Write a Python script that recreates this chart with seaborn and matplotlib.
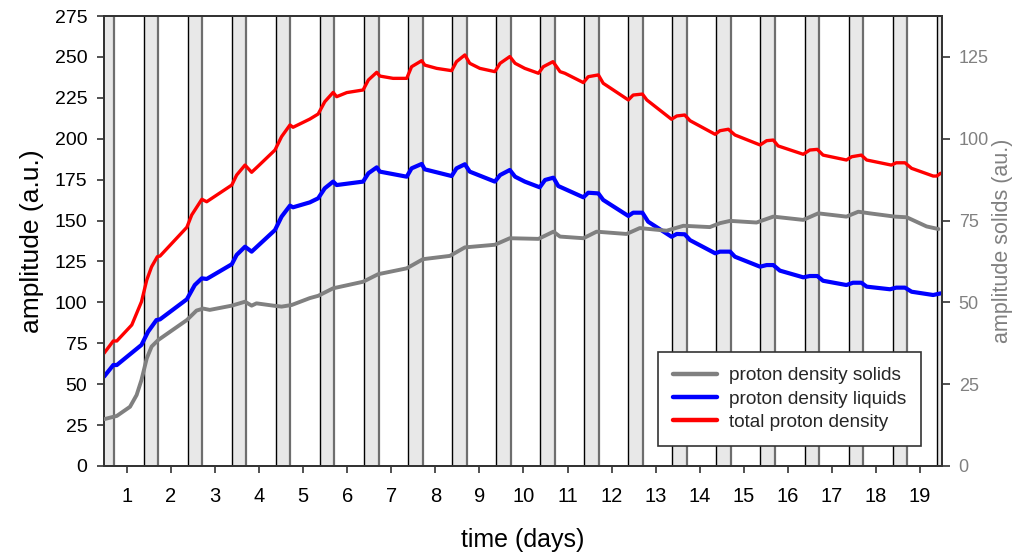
import matplotlib
matplotlib.use("Agg")
import matplotlib.pyplot as plt
from matplotlib.lines import Line2D
import pandas as pd
import seaborn as sns

sns.set_theme(style="ticks")
plt.rcParams['font.family'] = ['Liberation Sans', 'DejaVu Sans']

# ---- measured series -------------------------------------------------------
t_total = [0.48, 0.69, 0.77, 1.11, 1.33, 1.45, 1.56, 1.69, 1.75,
           2.36, 2.47, 2.70, 2.81, 3.38, 3.49, 3.68, 3.83, 3.98,
           4.36, 4.51, 4.70, 4.77, 5.15, 5.34, 5.49, 5.68, 5.76, 5.99,
           6.36, 6.48, 6.67, 6.74, 7.04, 7.35, 7.46, 7.69, 7.76,
           8.03, 8.37, 8.48, 8.67, 8.78, 9.01, 9.35, 9.47, 9.69, 9.81,
           10.03, 10.34, 10.45, 10.67, 10.83, 10.94, 11.36, 11.47, 11.70, 11.81,
           12.38, 12.49, 12.70, 12.80, 13.36, 13.48, 13.66, 13.78,
           14.35, 14.46, 14.65, 14.80, 15.37, 15.52, 15.67, 15.78,
           16.35, 16.50, 16.67, 16.80, 17.33, 17.45, 17.67, 17.79,
           18.35, 18.46, 18.66, 18.81, 19.30, 19.38, 19.47]
total = [68.9, 76.4, 76.4, 86.2, 100.4, 113.7, 121.8, 127.9, 128.3,
         145.9, 153.4, 163.0, 161.5, 171.7, 177.8, 183.9, 179.5, 183.3,
         193.1, 201.3, 208.4, 207.0, 212.0, 215.1, 222.6, 228.3, 225.7, 228.2,
         229.8, 235.9, 240.6, 238.3, 236.9, 236.9, 244.0, 247.7, 245.0,
         243.0, 241.6, 247.1, 251.2, 246.1, 243.0, 241.0, 246.1, 250.2, 246.1,
         243.0, 240.0, 244.0, 247.1, 241.0, 240.0, 234.3, 237.9, 239.0, 233.9,
         223.7, 226.7, 227.3, 223.7, 211.9, 213.9, 214.5, 211.0,
         202.7, 204.9, 205.8, 202.3, 196.2, 198.8, 199.2, 195.6,
         190.5, 193.1, 193.5, 190.0, 187.0, 189.0, 190.0, 187.0,
         183.9, 185.3, 185.3, 181.9, 177.2, 177.2, 178.9]

t_liquids = [0.48, 0.69, 0.77, 1.33, 1.48, 1.67, 1.75,
             2.36, 2.54, 2.70, 2.81, 3.38, 3.49, 3.68, 3.83,
             4.36, 4.51, 4.70, 4.77, 5.15, 5.34, 5.49, 5.68, 5.76,
             6.36, 6.48, 6.67, 6.74, 7.35, 7.46, 7.69, 7.76,
             8.37, 8.48, 8.67, 8.78, 9.35, 9.47, 9.69, 9.81, 10.03,
             10.37, 10.49, 10.68, 10.79, 11.36, 11.47, 11.70, 11.81,
             12.38, 12.49, 12.70, 12.83, 13.36, 13.48, 13.66, 13.78,
             14.35, 14.46, 14.69, 14.80, 15.37, 15.52, 15.67, 15.82,
             16.35, 16.50, 16.67, 16.80, 17.33, 17.48, 17.67, 17.79,
             18.32, 18.46, 18.66, 18.81, 19.30, 19.47]
liquids = [54.6, 61.7, 61.7, 74.0, 82.1, 89.2, 89.6,
           101.9, 110.6, 114.7, 114.3, 123.3, 129.0, 134.0, 131.0,
           144.2, 152.4, 159.1, 158.1, 161.1, 163.6, 169.7, 173.8, 171.7,
           173.8, 178.9, 182.5, 179.9, 176.8, 181.9, 184.6, 181.3,
           177.2, 181.9, 184.4, 179.9, 173.8, 177.8, 180.9, 176.8, 173.8,
           170.3, 174.8, 176.2, 171.1, 164.2, 167.0, 166.6, 162.6,
           152.8, 154.8, 154.8, 149.3, 140.1, 141.8, 141.6, 138.1,
           130.0, 131.0, 131.0, 127.9, 121.8, 122.8, 122.8, 119.4,
           115.3, 116.1, 116.1, 113.2, 110.6, 112.0, 112.0, 109.6,
           108.0, 109.0, 109.0, 106.5, 104.5, 105.5]

# solids are read against the right-hand axis
t_solids = [0.48, 0.77, 1.07, 1.22, 1.33, 1.45, 1.56, 1.71,
            2.36, 2.58, 2.73, 2.88, 3.38, 3.68, 3.83, 3.94,
            4.32, 4.51, 4.74, 5.15, 5.34, 5.68, 6.36, 6.70,
            7.35, 7.72, 8.33, 8.67, 9.35, 9.69, 10.34, 10.68, 10.83,
            11.36, 11.66, 12.34, 12.64, 13.25, 13.63, 14.23, 14.46, 14.69,
            15.29, 15.67, 16.35, 16.69, 17.33, 17.60, 17.86,
            18.43, 18.70, 19.15, 19.42]
solids = [14.3, 15.3, 18.1, 21.7, 26.3, 32.9, 36.5, 38.5,
          44.6, 47.5, 48.1, 47.7, 49.0, 50.2, 49.0, 49.7,
          49.0, 48.7, 49.2, 51.3, 52.0, 54.3, 56.3, 58.6,
          60.4, 63.2, 64.2, 66.8, 67.6, 69.6, 69.4, 71.6, 70.1,
          69.6, 71.6, 70.9, 72.7, 71.9, 73.4, 73.0, 74.2, 74.9,
          74.4, 76.2, 75.2, 77.2, 76.2, 77.7, 77.2,
          76.2, 76.0, 73.2, 72.4]

# shaded periods (days)
band_start = [0.38, 1.38, 2.38, 3.38, 4.38, 5.38, 6.38, 7.38, 8.38, 9.38,
              10.38, 11.38, 12.38, 13.38, 14.38, 15.38, 16.38, 17.38, 18.38, 19.38]
band_end = [0.71, 1.71, 2.71, 3.71, 4.71, 5.71, 6.71, 7.71, 8.71, 9.71,
            10.71, 11.71, 12.71, 13.71, 14.71, 15.71, 16.71, 17.71, 18.71, 19.71]

day_ticks = list(range(1, 20))
left_ticks = [0, 25, 50, 75, 100, 125, 150, 175, 200, 225, 250, 275]
right_ticks = [0, 25, 50, 75, 100, 125]

df_total = pd.DataFrame({"t": t_total, "v": total})
df_liq = pd.DataFrame({"t": t_liquids, "v": liquids})
df_sol = pd.DataFrame({"t": t_solids, "v": solids})

# ---- figure -----------------------------------------------------------------
fig = plt.figure(figsize=(10.14, 5.52), dpi=100)
ax = fig.add_axes([0.1026, 0.1558, 0.8264, 0.8152])
ax2 = ax.twinx()

for s, e in zip(band_start, band_end):
    ax.axvspan(s, e, facecolor="#e8e8e8", edgecolor="none", zorder=0)
    ax.axvline(s, color="black", lw=1.0, zorder=0.5)
    ax.axvline(e, color="#6e6e6e", lw=1.6, zorder=0.5)

sns.lineplot(data=df_liq, x="t", y="v", ax=ax, color="#0000ff", lw=3.0,
             legend=False, zorder=3)
sns.lineplot(data=df_total, x="t", y="v", ax=ax, color="#ff0000", lw=2.4,
             legend=False, zorder=3)
sns.lineplot(data=df_sol, x="t", y="v", ax=ax2, color="#808080", lw=2.8,
             legend=False, zorder=3)

ax.set_xlim(0.48, 19.5)
ax.set_ylim(0, 275)
ax2.set_ylim(0, 137.5)

ax.set_xticks(day_ticks)
ax.set_xticklabels([str(d) for d in day_ticks])
ax.set_yticks(left_ticks)
ax2.set_yticks(right_ticks)

ax.tick_params(axis="x", direction="out", length=5, width=1.2, pad=10,
               labelsize=14.5, colors="#333333", labelcolor="black")
ax.tick_params(axis="y", direction="out", length=5, width=1.2, pad=7,
               labelsize=14, colors="#333333", labelcolor="black")
ax2.tick_params(axis="y", direction="out", length=6, width=1.2, pad=6,
                labelsize=13, colors="#333333", labelcolor="#808080")

for a in (ax, ax2):
    for sp in a.spines.values():
        sp.set_color("#333333")
        sp.set_linewidth(1.3)
        sp.set_visible(True)

ax.set_xlabel("time (days)", fontsize=18, labelpad=16, color="black")
ax.set_ylabel("amplitude (a.u.)", fontsize=19, labelpad=8, color="black")
ax2.set_ylabel("amplitude solids (au.)", fontsize=15.5, labelpad=2, color="#808080")

handles = [Line2D([], [], color="#808080", lw=3.2),
           Line2D([], [], color="#0000ff", lw=3.2),
           Line2D([], [], color="#ff0000", lw=3.2)]
labels = ["proton density solids", "proton density liquids", "total proton density"]
leg = ax2.legend(handles, labels, loc="lower right", bbox_to_anchor=(0.975, 0.044),
                 fontsize=13.7, frameon=True, fancybox=False, framealpha=1,
                 edgecolor="#333333", handlelength=2.3, handletextpad=0.6,
                 labelspacing=0.32, borderpad=0.8, borderaxespad=0)
leg.get_frame().set_linewidth(1.2)
leg.set_zorder(10)

fig.savefig("out.png", dpi=100)
